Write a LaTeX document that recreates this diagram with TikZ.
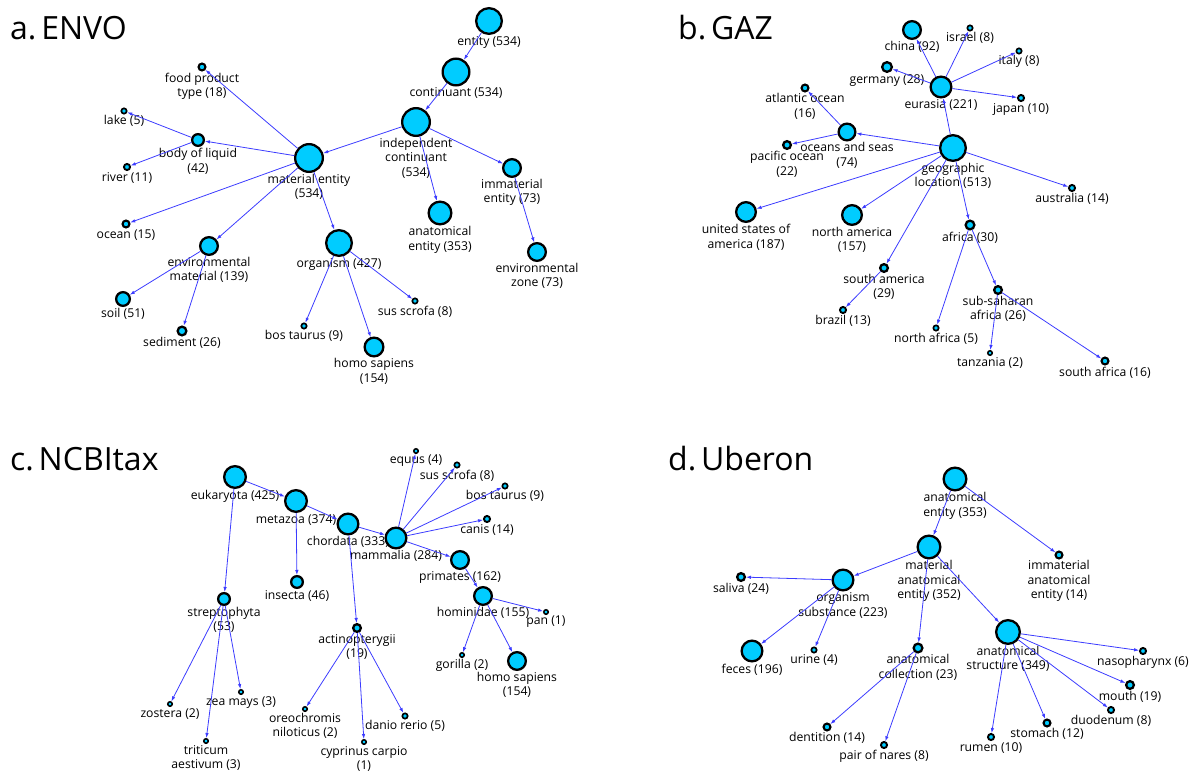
\documentclass[tikz,border=0pt]{standalone}
\usepackage{fontspec}
\setmainfont{Open Sans}
\usetikzlibrary{arrows.meta}
\definecolor{termcyan}{RGB}{0,204,255}
\definecolor{isablue}{RGB}{60,60,255}

\begin{document}
\begin{tikzpicture}[
  x=1pt,y=-1pt,
  term/.style={circle,draw=black,fill=termcyan,inner sep=0pt,
    line width={min(2.3,0.3+0.4*#1)},minimum size={2*#1-min(2.3,0.3+0.4*#1)}},
  lab/.style={font=\fontsize{12.2}{14.5}\selectfont,align=center,inner sep=1pt},
  isa/.style={draw=isablue,line width=0.8pt,-{Latex[length=5pt,width=3.5pt]}},
  title/.style={anchor=base west,inner sep=0pt,font=\fontsize{32}{36}\selectfont}
]
\useasboundingbox (0,0) rectangle (1190,773);

\node[title] (ta) at (10,40) {a.\hspace{0.15em}ENVO};
\node[title] (tb) at (678,40) {b.\hspace{0.15em}GAZ};
\node[title] (tc) at (10,470) {c.\hspace{0.15em}NCBItax};
\node[title] (td) at (668,470) {d.\hspace{0.15em}Uberon};

% a. ENVO
\node[term=14,label={[lab]below:entity (534)}] (entity) at (489,21) {};
\node[term=14.5,label={[lab]below:continuant (534)}] (cont) at (456,72) {};
\node[term=15,label={[lab]below:independent\\continuant\\(534)}] (indep) at (416,122) {};
\node[term=10,label={[lab]below:immaterial\\entity (73)}] (immat) at (512,168) {};
\node[term=10,label={[lab]below:environmental\\zone (73)}] (envzone) at (537,252) {};
\node[term=12.5,label={[lab]below:anatomical\\entity (353)}] (anat) at (440,213) {};
\node[term=15,label={[lab]below:material entity\\(534)}] (mat) at (309,158) {};
\node[term=4.5,label={[lab]below:food product\\type (18)}] (food) at (202,67) {};
\node[term=3.5,label={[lab]below:lake (5)}] (lake) at (124,111) {};
\node[term=7,label={[lab]below:body of liquid\\(42)}] (liquid) at (198,140) {};
\node[term=4,label={[lab]below:river (11)}] (river) at (127,167) {};
\node[term=4.5,label={[lab]below:ocean (15)}] (ocean) at (126,224) {};
\node[term=10,label={[lab]below:environmental\\material (139)}] (envmat) at (209,246) {};
\node[term=8,label={[lab]below:soil (51)}] (soil) at (123,299) {};
\node[term=5.5,label={[lab]below:sediment (26)}] (sediment) at (182,331) {};
\node[term=14,label={[lab]below:organism (427)}] (organism) at (339,243) {};
\node[term=3.5,label={[lab]below:bos taurus (9)}] (bos) at (304,326) {};
\node[term=3.5,label={[lab]below:sus scrofa (8)}] (sus) at (415,301) {};
\node[term=10.5,label={[lab]below:homo sapiens\\(154)}] (homo) at (374,347) {};

\path (entity) edge[isa] (cont)
(cont) edge[isa] (indep)
(indep) edge[isa] (mat)
(indep) edge[isa] (anat)
(indep) edge[isa] (immat)
(immat) edge[isa] (envzone)
(mat) edge[isa] (food)
(mat) edge[isa] (liquid)
(mat) edge[isa] (ocean)
(mat) edge[isa] (envmat)
(mat) edge[isa] (organism)
(liquid) edge[isa] (lake)
(liquid) edge[isa] (river)
(envmat) edge[isa] (soil)
(envmat) edge[isa] (sediment)
(organism) edge[isa] (bos)
(organism) edge[isa] (homo)
(organism) edge[isa] (sus);

% b. GAZ
\node[term=14,label={[lab]below:geographic\\location (513)}] (geo) at (953,148) {};
\node[term=11.5,label={[lab]below:eurasia (221)}] (eurasia) at (941,87) {};
\node[term=10,label={[lab]below:china (92)}] (china) at (912,30) {};
\node[term=3.5,label={[lab]below:israel (8)}] (israel) at (970,28) {};
\node[term=3.5,label={[lab]below:italy (8)}] (italy) at (1019,51) {};
\node[term=6,label={[lab]below:germany (28)}] (germany) at (887,67) {};
\node[term=4,label={[lab]below:japan (10)}] (japan) at (1021,98) {};
\node[term=4.5,label={[lab]below:atlantic ocean\\(16)}] (atlantic) at (805,88) {};
\node[term=9.5,label={[lab]below:oceans and seas\\(74)}] (oceans) at (847,132) {};
\node[term=5,label={[lab]below:pacific ocean\\(22)}] (pacific) at (787,145) {};
\node[term=4,label={[lab]below:australia (14)}] (australia) at (1072,188) {};
\node[term=11,label={[lab]below:united states of\\america (187)}] (usa) at (746,212) {};
\node[term=11,label={[lab]below:north america\\(157)}] (northam) at (852,215) {};
\node[term=5.5,label={[lab]below:africa (30)}] (africa) at (970,225) {};
\node[term=5,label={[lab]below:south america\\(29)}] (southam) at (884,268) {};
\node[term=4,label={[lab]below:brazil (13)}] (brazil) at (843,310) {};
\node[term=5,label={[lab]below:sub-saharan\\africa (26)}] (subsah) at (998,290) {};
\node[term=3.5,label={[lab]below:north africa (5)}] (northaf) at (936,328) {};
\node[term=3,label={[lab]below:tanzania (2)}] (tanzania) at (990,353) {};
\node[term=4.5,label={[lab]below:south africa (16)}] (southaf) at (1105,361) {};

\path (geo) edge[isa] (eurasia)
(geo) edge[isa] (oceans)
(geo) edge[isa] (usa)
(geo) edge[isa] (northam)
(geo) edge[isa] (southam)
(geo) edge[isa] (africa)
(geo) edge[isa] (australia)
(eurasia) edge[isa] (china)
(eurasia) edge[isa] (israel)
(eurasia) edge[isa] (italy)
(eurasia) edge[isa] (germany)
(eurasia) edge[isa] (japan)
(oceans) edge[isa] (atlantic)
(oceans) edge[isa] (pacific)
(southam) edge[isa] (brazil)
(africa) edge[isa] (northaf)
(africa) edge[isa] (subsah)
(subsah) edge[isa] (tanzania)
(subsah) edge[isa] (southaf);

% c. NCBItax
\node[term=12,label={[lab]below:eukaryota (425)}] (euk) at (235,477) {};
\node[term=12,label={[lab]below:metazoa (374)}] (metazoa) at (296,501) {};
\node[term=11.5,label={[lab]below:chordata (333)}] (chordata) at (348,524) {};
\node[term=11.5,label={[lab]below:mammalia (284)}] (mammalia) at (396,538) {};
\node[term=3,label={[lab]below:equus (4)}] (equus) at (416,451) {};
\node[term=3.5,label={[lab]below:sus scrofa (8)}] (suscrofa) at (457,465) {};
\node[term=3.5,label={[lab]below:bos taurus (9)}] (bostaurus) at (505,486) {};
\node[term=4,label={[lab]below:canis (14)}] (canis) at (487,519) {};
\node[term=10,label={[lab]below:primates (162)}] (primates) at (460,560) {};
\node[term=10,label={[lab]below:hominidae (155)}] (hominidae) at (483,596) {};
\node[term=3,label={[lab]below:pan (1)}] (pan) at (546,612) {};
\node[term=3,label={[lab]below:gorilla (2)}] (gorilla) at (462,655) {};
\node[term=10,label={[lab]below:homo sapiens\\(154)}] (homosap) at (517,661) {};
\node[term=7,label={[lab]below:insecta (46)}] (insecta) at (297,582) {};
\node[term=7,label={[lab]below:streptophyta\\(53)}] (strepto) at (224,599) {};
\node[term=5,label={[lab]below:actinopterygii\\(19)}] (actino) at (357,628) {};
\node[term=3,label={[lab]below:zostera (2)}] (zostera) at (170,704) {};
\node[term=3,label={[lab]below:zea mays (3)}] (zeamays) at (241,692) {};
\node[term=3,label={[lab]below:triticum\\aestivum (3)}] (triticum) at (206,741) {};
\node[term=3,label={[lab]below:oreochromis\\niloticus (2)}] (oreo) at (305,709) {};
\node[term=3,label={[lab]below:cyprinus carpio\\(1)}] (cyprinus) at (364,742) {};
\node[term=3.5,label={[lab]below:danio rerio (5)}] (danio) at (405,716) {};

\path (euk) edge[isa] (metazoa)
(euk) edge[isa] (strepto)
(metazoa) edge[isa] (chordata)
(metazoa) edge[isa] (insecta)
(chordata) edge[isa] (mammalia)
(chordata) edge[isa] (actino)
(mammalia) edge[isa] (equus)
(mammalia) edge[isa] (suscrofa)
(mammalia) edge[isa] (bostaurus)
(mammalia) edge[isa] (canis)
(mammalia) edge[isa] (primates)
(primates) edge[isa] (hominidae)
(hominidae) edge[isa] (pan)
(hominidae) edge[isa] (gorilla)
(hominidae) edge[isa] (homosap)
(strepto) edge[isa] (zostera)
(strepto) edge[isa] (triticum)
(strepto) edge[isa] (zeamays)
(actino) edge[isa] (oreo)
(actino) edge[isa] (cyprinus)
(actino) edge[isa] (danio);

% d. Uberon
\node[term=12.5,label={[lab]below:anatomical\\entity (353)}] (anatent) at (955,479) {};
\node[term=12.5,label={[lab]below:material\\anatomical\\entity (352)}] (matanat) at (929,547) {};
\node[term=4.5,label={[lab]below:immaterial\\anatomical\\entity (14)}] (immatanat) at (1059,555) {};
\node[term=5,label={[lab]below:saliva (24)}] (saliva) at (741,577) {};
\node[term=11.5,label={[lab]below:organism\\substance (223)}] (orgsub) at (843,580) {};
\node[term=11.5,label={[lab]below:feces (196)}] (feces) at (752,651) {};
\node[term=3.5,label={[lab]below:urine (4)}] (urine) at (814,650) {};
\node[term=5.5,label={[lab]below:anatomical\\collection (23)}] (collection) at (918,648) {};
\node[term=13,label={[lab]below:anatomical\\structure (349)}] (structure) at (1008,632) {};
\node[term=4,label={[lab]below:nasopharynx (6)}] (nasoph) at (1143,651) {};
\node[term=5,label={[lab]below:mouth (19)}] (mouth) at (1130,685) {};
\node[term=4,label={[lab]below:duodenum (8)}] (duodenum) at (1111,710) {};
\node[term=4.5,label={[lab]below:stomach (12)}] (stomach) at (1047,723) {};
\node[term=4,label={[lab]below:rumen (10)}] (rumen) at (991,737) {};
\node[term=4.5,label={[lab]below:dentition (14)}] (dentition) at (827,727) {};
\node[term=4,label={[lab]below:pair of nares (8)}] (nares) at (884,745) {};

\path (anatent) edge[isa] (matanat)
(anatent) edge[isa] (immatanat)
(matanat) edge[isa] (orgsub)
(matanat) edge[isa] (collection)
(matanat) edge[isa] (structure)
(orgsub) edge[isa] (saliva)
(orgsub) edge[isa] (feces)
(orgsub) edge[isa] (urine)
(collection) edge[isa] (dentition)
(collection) edge[isa] (nares)
(structure) edge[isa] (nasoph)
(structure) edge[isa] (mouth)
(structure) edge[isa] (duodenum)
(structure) edge[isa] (stomach)
(structure) edge[isa] (rumen);
\end{tikzpicture}
\end{document}
